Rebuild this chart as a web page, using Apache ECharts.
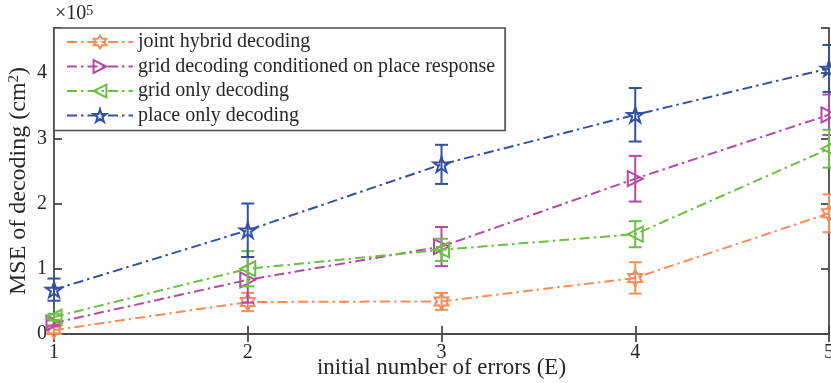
<!DOCTYPE html>
<html>
<head>
<meta charset="utf-8">
<script src="https://cdn.jsdelivr.net/npm/echarts@6/dist/echarts.min.js"></script>
<style>
  html, body { margin: 0; padding: 0; background: #ffffff; }
  #chart { width: 831px; height: 383px; }
</style>
</head>
<body>
<div id="chart"></div>
<script>
// Decoding error versus the initial number of errors, mean and error bar half-width (cm^2)
const errorCounts = [1, 2, 3, 4, 5];
const seriesNames = [
  'joint hybrid decoding',
  'grid decoding conditioned on place response',
  'grid only decoding',
  'place only decoding'
];
const jointMean       = [6000, 49000, 50000, 86000, 185000];
const jointErr        = [5000, 14000, 13000, 24000, 29000];
const conditionedMean = [17000, 83000, 134000, 238000, 336000];
const conditionedErr  = [4000, 35000, 30000, 35000, 31000];
const gridMean        = [26000, 100000, 129000, 153000, 284000];
const gridErr         = [5000, 27000, 17000, 20000, 29000];
const placeMean       = [68000, 159000, 260000, 336000, 407000];
const placeErr        = [17000, 41000, 30000, 41000, 36000];
const yTickValues     = [0, 1, 2, 3, 4];   // tick labels in units of 10^5

const colors = ['#F78C5B', '#B54AA6', '#6DBE45', '#3451A3'];
const means = [jointMean, conditionedMean, gridMean, placeMean];
const errs = [jointErr, conditionedErr, gridErr, placeErr];

// Outline marker shapes
function starPath(points, inner) {
  let d = '';
  const n = points * 2;
  for (let i = 0; i < n; i++) {
    const r = i % 2 === 0 ? 1 : inner;
    const a = -Math.PI / 2 + i * Math.PI / points;
    const px = (r * Math.cos(a)).toFixed(4);
    const py = (r * Math.sin(a)).toFixed(4);
    d += (i === 0 ? 'M' : 'L') + px + ',' + py + ' ';
  }
  return 'path://' + d + 'Z';
}
const markers = [
  starPath(6, 0.577),
  'path://M0,0 L1,0.5 L0,1 Z',
  'path://M1,0 L0,0.5 L1,1 Z',
  starPath(5, 0.382)
];
const markerSizes = [16, 15, 15, 16];

const axisColor = '#4a4a4a';
const textColor = '#262626';
const fontFamily = '"Liberation Serif", "DejaVu Serif", serif';
const dashDot = [10, 4, 2.5, 4];

const series = [];
seriesNames.forEach((name, i) => {
  // error bars
  series.push({
    name: name + ' (error)',
    type: 'custom',
    clip: false,
    z: 2 + i * 2,
    data: errorCounts.map((x, k) => [x, means[i][k] - errs[i][k], means[i][k] + errs[i][k]]),
    renderItem: function (params, api) {
      const x = api.value(0);
      const lo = api.coord([x, api.value(1)]);
      const hi = api.coord([x, api.value(2)]);
      const w = 6.5;
      const style = { stroke: colors[i], lineWidth: 2, fill: null };
      return {
        type: 'group',
        children: [
          { type: 'line', shape: { x1: lo[0], y1: lo[1], x2: hi[0], y2: hi[1] }, style: style },
          { type: 'line', shape: { x1: lo[0] - w, y1: lo[1], x2: lo[0] + w, y2: lo[1] }, style: style },
          { type: 'line', shape: { x1: hi[0] - w, y1: hi[1], x2: hi[0] + w, y2: hi[1] }, style: style }
        ]
      };
    }
  });
  // mean line with markers
  series.push({
    name: name,
    type: 'line',
    clip: false,
    z: 3 + i * 2,
    data: errorCounts.map((x, k) => [x, means[i][k]]),
    symbol: markers[i],
    symbolSize: markerSizes[i],
    symbolKeepAspect: true,
    showAllSymbol: true,
    color: colors[i],
    lineStyle: { color: colors[i], width: 2, type: dashDot },
    itemStyle: { color: 'rgba(255,255,255,0)', borderColor: colors[i], borderWidth: 2 },
    emphasis: { disabled: true },
    animation: false
  });
});

const chart = echarts.init(document.getElementById('chart'), null, { renderer: 'canvas' });
chart.setOption({
  animation: false,
  backgroundColor: '#ffffff',
  textStyle: { fontFamily: fontFamily, color: textColor },
  grid: { left: 54, right: 2, top: 28, bottom: 49, containLabel: false, outerBoundsMode: 'none' },
  legend: {
    data: seriesNames,
    orient: 'vertical',
    left: 54,
    top: 28,
    padding: [3, 10, 4, 12],
    itemGap: 2.5,
    itemWidth: 66,
    itemHeight: 16,
    backgroundColor: '#ffffff',
    borderColor: axisColor,
    borderWidth: 1.6,
    borderRadius: 0,
    selectedMode: false,
    textStyle: { fontFamily: fontFamily, fontSize: 20, color: textColor, lineHeight: 22 }
  },
  xAxis: [{
    type: 'value',
    min: 1, max: 5, interval: 1,
    name: 'initial number of errors (E)',
    nameLocation: 'middle',
    nameGap: 22,
    nameMoveOverlap: false,
    nameTextStyle: { fontFamily: fontFamily, fontSize: 23, color: textColor },
    axisLine: { show: true, lineStyle: { color: axisColor, width: 1.8 } },
    axisTick: { show: true, inside: true, length: 8, lineStyle: { color: axisColor, width: 1.8 } },
    axisLabel: { fontFamily: fontFamily, fontSize: 20, color: textColor, margin: 9 },
    splitLine: { show: false }
  }, {
    type: 'value',
    position: 'top',
    min: 1, max: 5, interval: 1,
    axisLine: { show: true, lineStyle: { color: axisColor, width: 1.8 } },
    axisTick: { show: true, inside: true, length: 8, lineStyle: { color: axisColor, width: 1.8 } },
    axisLabel: { show: false },
    splitLine: { show: false }
  }],
  yAxis: [{
    type: 'value',
    min: 0, max: 469000, interval: 100000,
    name: 'MSE of decoding (cm{s|2})',
    nameLocation: 'middle',
    nameGap: 23,
    nameMoveOverlap: false,
    nameTextStyle: {
      fontFamily: fontFamily, fontSize: 24, color: textColor,
      rich: { s: { fontFamily: fontFamily, fontSize: 15, color: textColor, verticalAlign: 'top', lineHeight: 15 } }
    },
    axisLine: { show: true, lineStyle: { color: axisColor, width: 1.8 } },
    axisTick: { show: true, inside: true, length: 8, lineStyle: { color: axisColor, width: 1.8 } },
    axisLabel: {
      fontFamily: fontFamily, fontSize: 20, color: textColor, margin: 7,
      formatter: function (v) {
        const t = Math.round(v / 1e5);
        return (Math.abs(v - t * 1e5) < 1 && yTickValues.indexOf(t) >= 0) ? String(t) : '';
      }
    },
    splitLine: { show: false }
  }, {
    type: 'value',
    position: 'right',
    min: 0, max: 469000, interval: 100000,
    axisLine: { show: true, lineStyle: { color: axisColor, width: 1.8 } },
    axisTick: { show: true, inside: true, length: 8, lineStyle: { color: axisColor, width: 1.8 } },
    axisLabel: { show: false },
    splitLine: { show: false }
  }],
  graphic: [{
    type: 'text',
    left: 55,
    top: 4,
    style: {
      text: '{a|×10}{s|5}',
      rich: {
        a: { fontFamily: fontFamily, fontSize: 20, fill: textColor },
        s: { fontFamily: fontFamily, fontSize: 14, fill: textColor, verticalAlign: 'top' }
      }
    }
  }],
  series: series.map(s => Object.assign({ xAxisIndex: 0, yAxisIndex: 0 }, s))
});
</script>
</body>
</html>
